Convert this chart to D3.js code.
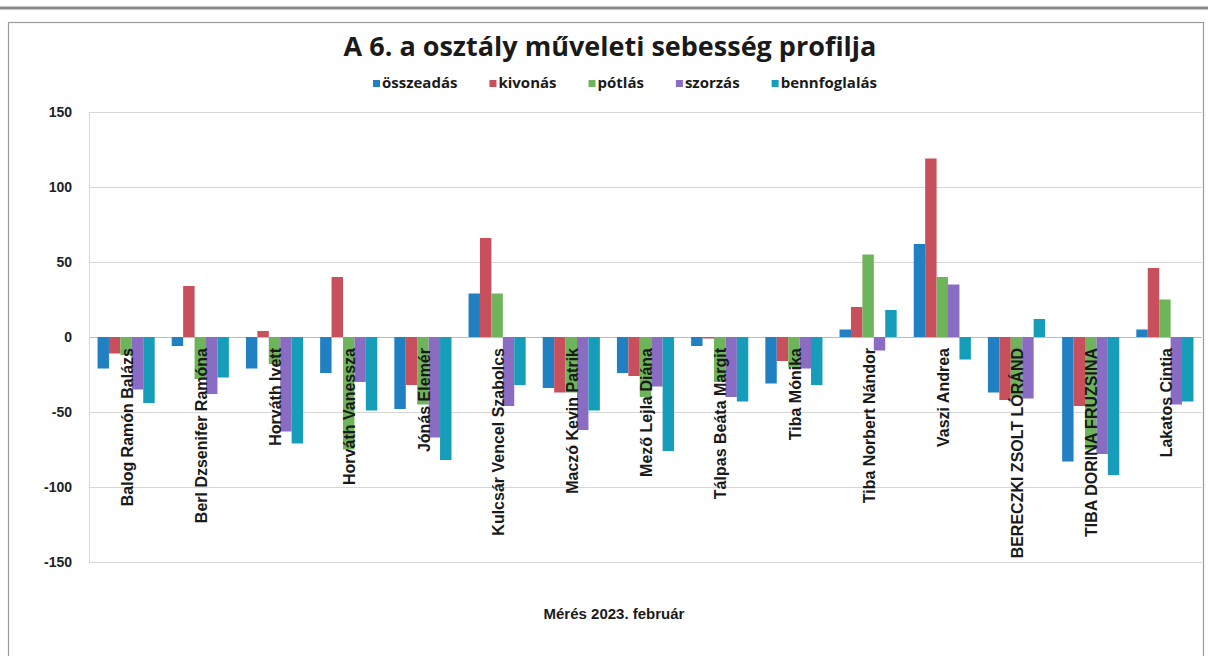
<!DOCTYPE html>
<html>
<head>
<meta charset="utf-8">
<script src="https://cdn.jsdelivr.net/npm/d3@7"></script>
<style>
  body { margin: 0; background: #fff; }
  svg { display: block; }
</style>
</head>
<body>
<script>
// tanulók (kategóriák)
var names = ["Balog Ramón Balázs", "Berl Dzsenifer Ramóna", "Horváth Ivett", "Horváth Vanessza",
  "Jónás Elemér", "Kulcsár Vencel Szabolcs", "Maczó Kevin Patrik", "Mező Lejla Diána",
  "Tálpas Beáta Margit", "Tiba Mónika", "Tiba Norbert Nándor", "Vaszi Andrea",
  "BERECZKI ZSOLT LÓRÁND", "TIBA DORINA FRUZSINA", "Lakatos Cintia"];

var series = ["összeadás", "kivonás", "pótlás", "szorzás", "bennfoglalás"];

var osszeadas    = [-21, -6, -21, -24, -48, 29, -34, -24, -6, -31, 5, 62, -37, -83, 5];
var kivonas      = [-11, 34, 4, 40, -32, 66, -37, -26, -1, -16, 20, 119, -42, -46, 46];
var potlas       = [-12, -28, -18, -75, -45, 29, -37, -40, -30, -20, 55, 40, -40, -75, 25];
var szorzas      = [-35, -38, -63, -30, -67, -46, -62, -33, -40, -21, -9, 35, -41, -78, -45];
var bennfoglalas = [-44, -27, -71, -49, -82, -32, -49, -76, -43, -32, 18, -15, 12, -92, -43];

var yTicks = [150, 100, 50, 0, -50, -100, -150];

var colors = ["#2180c2", "#c84f5c", "#6db45a", "#8a6cc2", "#169db9"];

var values = [osszeadas, kivonas, potlas, szorzas, bennfoglalas];

var width = 1208, height = 656;

var svg = d3.select("body").append("svg")
    .attr("width", width)
    .attr("height", height);

// keret (beszkennelt lap)
svg.append("line")
    .attr("x1", 0).attr("x2", width).attr("y1", 8).attr("y2", 8)
    .style("stroke", "#8a8a8a").style("stroke-width", 3);
svg.append("rect")
    .attr("x", 8.5).attr("y", 22.5)
    .attr("width", 1195).attr("height", 640)
    .style("fill", "none").style("stroke", "#9a9a9a").style("stroke-width", 1.2);

var x0 = d3.scaleBand()
    .domain(names)
    .range([89, 1202])
    .paddingInner(0.23)
    .paddingOuter(0.115);

var x1 = d3.scaleBand()
    .domain(series)
    .range([0, x0.bandwidth()]);

var y = d3.scaleLinear()
    .domain([-150, 150])
    .range([562, 112]);

// rácsvonalak
svg.append("g")
    .selectAll("line")
    .data(yTicks)
  .enter().append("line")
    .attr("x1", 89).attr("x2", 1202)
    .attr("y1", function(d) { return y(d) + 0.5; })
    .attr("y2", function(d) { return y(d) + 0.5; })
    .style("stroke", function(d) { return d === 0 ? "#bdbdbd" : "#d6d6d6"; })
    .style("stroke-width", 1);

svg.append("line")
    .attr("x1", 89.5).attr("x2", 89.5)
    .attr("y1", y(150)).attr("y2", y(-150))
    .style("stroke", "#d6d6d6");

// y tengely feliratai
svg.append("g")
    .selectAll("text")
    .data(yTicks)
  .enter().append("text")
    .attr("x", 72)
    .attr("y", function(d) { return y(d); })
    .attr("dy", "0.35em")
    .attr("text-anchor", "end")
    .style("font-family", "Liberation Sans, Arial, sans-serif")
    .style("font-weight", "bold")
    .style("font-size", "14px")
    .style("fill", "#222")
    .text(function(d) { return d; });

// oszlopok
var groups = svg.append("g")
    .selectAll("g")
    .data(names)
  .enter().append("g")
    .attr("transform", function(d) { return "translate(" + x0(d) + ",0)"; });

groups.selectAll("rect")
    .data(function(d, i) {
      return series.map(function(s, k) { return {key: s, k: k, value: values[k][i]}; });
    })
  .enter().append("rect")
    .attr("x", function(d) { return x1(d.key); })
    .attr("width", x1.bandwidth())
    .attr("y", function(d) { return y(Math.max(0, d.value)); })
    .attr("height", function(d) { return Math.abs(y(d.value) - y(0)); })
    .style("fill", function(d) { return colors[d.k]; });

// kategória feliratok (függőlegesen)
svg.append("g")
    .selectAll("text")
    .data(names)
  .enter().append("text")
    .attr("transform", function(d) {
      return "translate(" + (x0(d) + x0.bandwidth() / 2 + 1) + "," + (y(0) + 11) + ") rotate(-90)";
    })
    .attr("dy", "0.35em")
    .attr("text-anchor", "end")
    .style("font-family", "Liberation Sans Narrow, Arial Narrow, sans-serif")
    .style("font-weight", "bold")
    .style("font-size", "16px")
    .style("fill", "#1a1a1a")
    .text(function(d) { return d; });

// cím
svg.append("text")
    .attr("x", 610)
    .attr("y", 56)
    .attr("text-anchor", "middle")
    .style("font-family", "Open Sans, sans-serif")
    .style("font-weight", "bold")
    .style("font-size", "27px")
    .style("fill", "#1a1a1a")
    .text("A 6. a osztály műveleti sebesség profilja");

// jelmagyarázat
var legend = svg.append("g");
var lx = 0;
series.forEach(function(s, k) {
  var item = legend.append("g").attr("transform", "translate(" + lx + ",0)");
  item.append("rect")
      .attr("x", 0).attr("y", -8)
      .attr("width", 7).attr("height", 7)
      .style("fill", colors[k]);
  var t = item.append("text")
      .attr("x", 9).attr("y", 0)
      .style("font-family", "Open Sans, sans-serif")
      .style("font-weight", "bold")
      .style("font-size", "15px")
      .style("fill", "#1a1a1a")
      .text(s);
  lx += 9 + t.node().getComputedTextLength() + 32;
});
lx -= 32;
legend.attr("transform", "translate(" + (625 - lx / 2) + ",88)");

// x tengely címe
svg.append("text")
    .attr("x", 614)
    .attr("y", 619)
    .attr("text-anchor", "middle")
    .style("font-family", "Liberation Sans, Arial, sans-serif")
    .style("font-weight", "bold")
    .style("font-size", "15px")
    .style("fill", "#1a1a1a")
    .text("Mérés 2023. február");
</script>
</body>
</html>
